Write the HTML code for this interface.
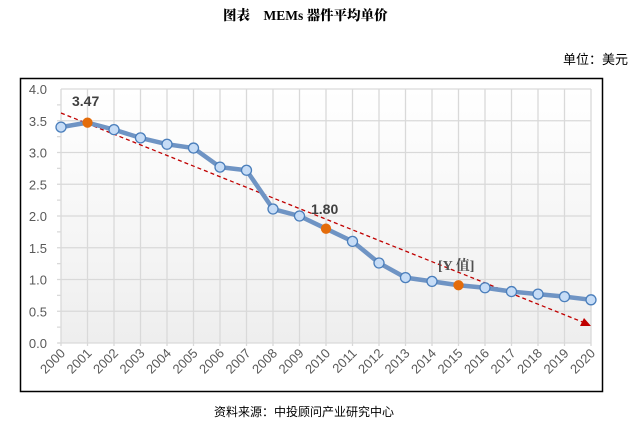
<!DOCTYPE html>
<html><head><meta charset="utf-8"><style>
body{margin:0;width:638px;height:429px;background:#fff;overflow:hidden;position:relative;font-family:"Liberation Sans","Noto Sans CJK SC",sans-serif}
.t{position:absolute}
</style></head><body>
<div class="t" style="left:223px;top:4px;font-family:'Liberation Serif','Noto Serif CJK SC',serif;font-weight:900;font-size:13.5px;">图表&nbsp;&nbsp;&nbsp;&nbsp;MEMs 器件平均单价</div>
<div class="t" style="left:563px;top:49px;font-size:13px;">单位：美元</div>
<div class="t" style="left:214px;top:403px;font-size:12px;">资料来源：中投顾问产业研究中心</div>
<svg class="t" style="left:0;top:0" width="638" height="429">
<defs><linearGradient id="g" x1="0" y1="0" x2="0" y2="1"><stop offset="0" stop-color="#ffffff"/><stop offset="1" stop-color="#eeeeee"/></linearGradient></defs>
<rect x="20.5" y="78.5" width="582" height="313" fill="#fff" stroke="#000" stroke-width="1.5"/>
<rect x="61" y="89" width="530" height="254" fill="url(#g)"/>
<g stroke="#d9d9d9" stroke-width="1.3">
<line x1="61" y1="89" x2="591" y2="89"/><line x1="61" y1="120.75" x2="591" y2="120.75"/><line x1="61" y1="152.5" x2="591" y2="152.5"/><line x1="61" y1="184.25" x2="591" y2="184.25"/><line x1="61" y1="216" x2="591" y2="216"/><line x1="61" y1="247.75" x2="591" y2="247.75"/><line x1="61" y1="279.5" x2="591" y2="279.5"/><line x1="61" y1="311.25" x2="591" y2="311.25"/><line x1="58" y1="343" x2="591" y2="343"/>
</g>
<g id="vg" stroke="#d9d9d9" stroke-width="1.3"></g>
<g id="yl" font-size="13" fill="#595959" text-anchor="end"></g>
<g id="xl" font-size="13" fill="#595959"></g>
<line x1="61" y1="113" x2="585" y2="323" stroke="#c00000" stroke-width="1.3" stroke-dasharray="4,3"/>
<polygon points="591,326 580,326 584,318" fill="#c00000"/>
<polyline id="pl" fill="none" stroke="#6f94c4" stroke-width="4.5" stroke-linejoin="round"/>
<g id="pts"></g>
<text x="72" y="106" font-size="14" font-weight="bold" fill="#404040">3.47</text>
<text x="311" y="214" font-size="14" font-weight="bold" fill="#404040">1.80</text>
<text x="438" y="270" font-size="14" font-weight="bold" font-family="'Liberation Serif','Noto Serif CJK SC',serif" fill="#505050">[Y 值]</text>
</svg>
<script>
var d=[3.40,3.47,3.36,3.23,3.13,3.07,2.77,2.72,2.11,2.00,1.80,1.60,1.26,1.03,0.97,0.91,0.87,0.81,0.77,0.73,0.68];
var ns="http://www.w3.org/2000/svg";function el(t,a,p){var e=document.createElementNS(ns,t);for(var k in a)e.setAttribute(k,a[k]);p.appendChild(e);return e;}
var vg=document.getElementById('vg'),xl=document.getElementById('xl'),yl=document.getElementById('yl'),pts=document.getElementById('pts');
var s="";
for(var i=0;i<21;i++){var x=61+i*26.5,y=343-d[i]*63.5;el('line',{x1:x,y1:89,x2:x,y2:346},vg);s+=x+","+y+" ";
var t=el('text',{x:0,y:0,transform:"translate("+(x+5)+",354) rotate(-45)","text-anchor":"end"},xl);t.textContent=2000+i;}
for(var j=0;j<=8;j++){var t=el('text',{x:47,y:343-j*31.75+5},yl);t.textContent=(j*0.5).toFixed(1);}
for(var j=0;j<16;j++){el('line',{x1:57,y1:343-j*15.875,x2:61,y2:343-j*15.875,stroke:"#d9d9d9"},vg);}
document.getElementById('pl').setAttribute('points',s);
for(var i=0;i<21;i++){var x=61+i*26.5,y=343-d[i]*63.5;var o=(i==1||i==10||i==15);
el('circle',{cx:x,cy:y,r:o?4.5:5,fill:o?"#e46c0a":"#c6dcf6",stroke:o?"#e46c0a":"#4a7ebb","stroke-width":1.3},pts);}
</script>
</body></html>
